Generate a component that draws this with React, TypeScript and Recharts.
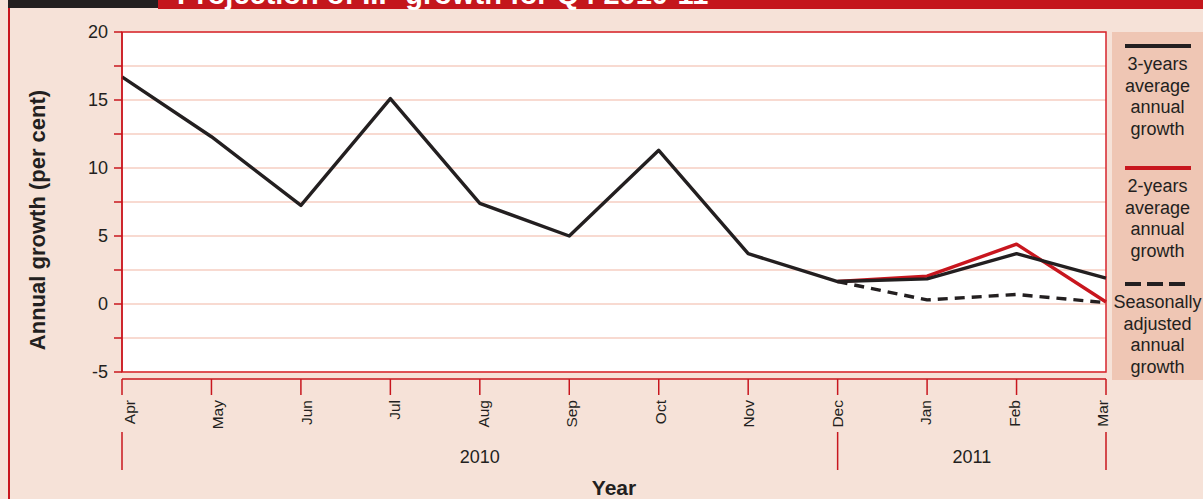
import React from 'react';
import { LineChart, Line, XAxis, YAxis, CartesianGrid, ReferenceArea, Label } from 'recharts';

// ---------- data ----------
const months = ['Apr', 'May', 'Jun', 'Jul', 'Aug', 'Sep', 'Oct', 'Nov', 'Dec', 'Jan', 'Feb', 'Mar'];
const threeYearAvg = [16.7, 12.3, 7.25, 15.1, 7.4, 5.0, 11.3, 3.7, 1.65, 1.85, 3.7, 1.9];
const twoYearAvg = [null, null, null, null, null, null, null, null, 1.65, 2.05, 4.4, 0.15];
const seasonallyAdjusted = [null, null, null, null, null, null, null, null, 1.65, 0.3, 0.7, 0.1];
const yTicks = [-5, -2.5, 0, 2.5, 5, 7.5, 10, 12.5, 15, 17.5, 20];
const years = ['2010', '2011'];
const yearStartIdx = [0, 8];
const yearEndIdx = [8, 11];

const title = 'Projection of IIP growth for Q4 2010-11';
const yAxisTitle = 'Annual growth (per cent)';
const xAxisTitle = 'Year';

// ---------- styles ----------
const BG = '#f6e2d8';
const LEGEND_BG = '#efc6b4';
const RED = '#c8161e';
const FRAME = '#d6262e';
const GRID = '#f1b6a3';
const INK = '#231f20';
const FONT = "'Liberation Sans', Arial, sans-serif";

const series = [
  { key: 'two', name: ['2-years', 'average', 'annual', 'growth'], color: RED, dash: undefined as string | undefined },
  { key: 'three', name: ['3-years', 'average', 'annual', 'growth'], color: INK, dash: undefined as string | undefined },
  { key: 'sa', name: ['Seasonally', 'adjusted', 'annual', 'growth'], color: INK, dash: '10 7' },
];
const legendOrder = ['three', 'two', 'sa'];
const legendGaps = [9, 23, 17];

const data = months.map((m, i) => ({
  month: m,
  idx: i,
  three: threeYearAvg[i],
  two: twoYearAvg[i],
  sa: seasonallyAdjusted[i],
}));

const boundaries = Array.from(new Set([...yearStartIdx, ...yearEndIdx])).sort((a, b) => a - b);
const mids = yearStartIdx.map((s, i) => (s + yearEndIdx[i]) / 2);
const yearTicks = [...boundaries, ...mids].sort((a, b) => a - b);

const MonthTick = (props: any) => {
  const { x, y, payload, index } = props;
  const lx = x + 7.5 - 1.0 * (index ?? 0);
  const ly = y + 28;
  return (
    <g>
      <line x1={x} x2={x} y1={y + 7} y2={y + 23} stroke={RED} strokeWidth={1.5} />
      <text
        x={lx}
        y={ly}
        transform={`rotate(-90, ${lx}, ${ly})`}
        textAnchor="end"
        dominantBaseline="central"
        fontSize={15.5}
        fill={INK}
        fontFamily={FONT}
      >
        {payload.value}
      </text>
    </g>
  );
};

const YearTick = (props: any) => {
  const { x, y, payload } = props;
  const v = payload.value;
  if (boundaries.indexOf(v) >= 0) {
    return <line x1={x} x2={x} y1={y} y2={y + 38} stroke={RED} strokeWidth={1.5} />;
  }
  const mi = mids.indexOf(v);
  return (
    <text x={x} y={y + 25} textAnchor="middle" dominantBaseline="central" fontSize={18} fill={INK} fontFamily={FONT}>
      {years[mi]}
    </text>
  );
};

const LegendBox = () => (
  <div
    style={{
      position: 'absolute',
      left: 1112,
      top: 32,
      width: 91,
      height: 348,
      background: LEGEND_BG,
      fontFamily: FONT,
      color: INK,
      textAlign: 'center',
    }}
  >
    {legendOrder.map((k, i) => {
      const s = series.find((q) => q.key === k)!;
      return (
        <div key={k} style={{ marginTop: legendGaps[i] }}>
          <svg width={66} height={10} style={{ display: 'block', margin: '0 auto' }}>
            <line x1={0} x2={66} y1={5} y2={5} stroke={s.color} strokeWidth={4} strokeDasharray={s.dash ? '16 6' : undefined} />
          </svg>
          <div style={{ marginTop: 3, fontSize: 18, lineHeight: '21.5px' }}>
            {s.name.map((t) => (
              <div key={t}>{t}</div>
            ))}
          </div>
        </div>
      );
    })}
  </div>
);

export default function App() {
  return (
    <div
      style={{
        position: 'fixed',
        left: 0,
        top: 0,
        width: 1203,
        height: 499,
        background: BG,
        overflow: 'hidden',
        fontFamily: FONT,
      }}
    >
      <div style={{ position: 'absolute', left: 0, top: 0 }}>
        <LineChart width={1203} height={499} data={data} margin={{ top: 32, right: 97, left: 0, bottom: 0 }}>
          <CartesianGrid vertical={false} stroke={GRID} strokeWidth={1.2} fill="#ffffff" />
          <ReferenceArea x1="Apr" x2="Mar" y1={-5} y2={20} fill="none" fillOpacity={0} stroke={FRAME} strokeWidth={1.5} />
          <XAxis
            dataKey="month"
            height={60}
            tickSize={0}
            tickMargin={0}
            interval={0}
            tick={<MonthTick />}
            axisLine={{ stroke: RED, strokeWidth: 1.5, transform: 'translate(0,7)' }}
            tickLine={false}
          />
          <XAxis
            xAxisId="year"
            dataKey="idx"
            type="number"
            domain={[0, 11]}
            ticks={yearTicks}
            interval={0}
            height={67}
            tickSize={0}
            tickMargin={0}
            tick={<YearTick />}
            axisLine={false}
            tickLine={false}
          >
            <Label value={xAxisTitle} position="insideBottom" offset={4} style={{ fontSize: 21, fontWeight: 700, fill: INK, fontFamily: FONT }} />
          </XAxis>
          <YAxis
            width={122}
            domain={[-5, 20]}
            ticks={yTicks}
            interval={0}
            tickSize={8}
            tickMargin={6}
            tickFormatter={(v: number) => (v % 5 === 0 ? String(v) : '')}
            tick={{ fill: INK, fontSize: 18, fontFamily: FONT }}
            axisLine={{ stroke: RED, strokeWidth: 1.5 }}
            tickLine={{ stroke: RED, strokeWidth: 1.5 }}
          >
            <Label
              value={yAxisTitle}
              angle={-90}
              position="center"
              dx={-24}
              dy={18}
              style={{ fontSize: 22, fontWeight: 700, fill: INK, fontFamily: FONT, textAnchor: 'middle' }}
            />
          </YAxis>
          {series.map((s) => (
            <Line
              key={s.key}
              type="linear"
              dataKey={s.key}
              stroke={s.color}
              strokeWidth={3.4}
              strokeDasharray={s.dash}
              dot={false}
              activeDot={false}
              isAnimationActive={false}
              strokeLinejoin="round"
            />
          ))}
        </LineChart>
      </div>
      <LegendBox />
      <svg width={1203} height={10} style={{ position: 'absolute', left: 0, top: 0 }}>
        <rect x={158} y={0} width={1045} height={9} fill="#c4161c" />
        <rect x={8} y={0} width={150} height={8} fill={INK} />
        <text x={177} y={4} fontSize={29} fontWeight={700} fill="#ffffff" fontFamily={FONT}>
          {title}
        </text>
      </svg>
      <div style={{ position: 'absolute', left: 8, top: 8, width: 2, height: 491, background: RED }} />
    </div>
  );
}
